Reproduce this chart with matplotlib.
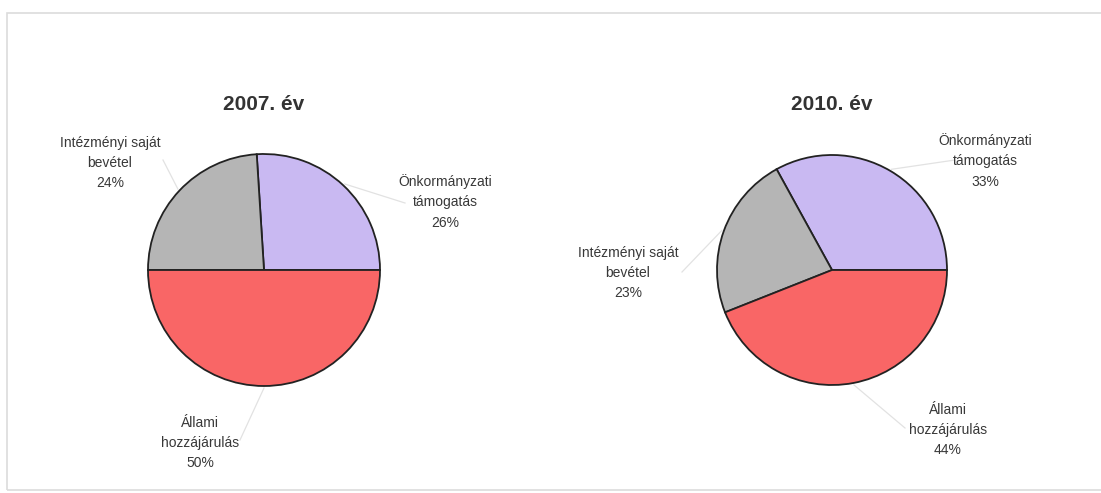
import matplotlib
matplotlib.use("Agg")
import matplotlib.pyplot as plt
import numpy as np
from matplotlib.patches import Rectangle

plt.rcParams['font.family'] = ['Liberation Sans', 'DejaVu Sans']

# Data
categories = ["Önkormányzati\ntámogatás", "Intézményi saját\nbevétel", "Állami\nhozzájárulás"]
years = ["2007. év", "2010. év"]
values_2007 = [26, 24, 50]
values_2010 = [33, 23, 44]
colors = ["#C9B9F2", "#B5B5B5", "#F96666"]

W, H = 1101, 493
fig = plt.figure(figsize=(W / 100, H / 100), dpi=100)
ax = fig.add_axes([0, 0, 1, 1])

# layout (pixel coordinates, y from top)
pies = [
    dict(vals=values_2007, title=years[0], cx=264, cy=270, r=116, ty=104,
         label_pos=[(445, 202), (110, 163), (200, 443)],
         leader_end=[(405, 203), (163, 160), (240, 440)]),
    dict(vals=values_2010, title=years[1], cx=832, cy=270, r=115, ty=104,
         label_pos=[(985, 161), (628, 273), (948, 430)],
         leader_end=[(955, 160), (682, 272), (905, 428)]),
]

# frame
ax.add_patch(Rectangle((7, H - 490), W + 10, 477, fill=False, edgecolor="#dcdcdc", lw=1.2))

for p in pies:
    cx, cy = p["cx"], H - p["cy"]
    wedges, _ = ax.pie(p["vals"], colors=colors, startangle=0, counterclock=True,
                       center=(cx, cy), radius=p["r"],
                       wedgeprops=dict(edgecolor="#222222", linewidth=1.3))
    ax.text(cx, H - p["ty"], p["title"], ha="center", va="center",
            fontsize=15, fontweight="bold", color="#333333")
    total = sum(p["vals"])
    for w, cat, v, (lx, ly), (ex, ey) in zip(wedges, categories, p["vals"],
                                            p["label_pos"], p["leader_end"]):
        ang = np.deg2rad((w.theta1 + w.theta2) / 2)
        sx = cx + (p["r"] + 2) * np.cos(ang)
        sy = cy + (p["r"] + 2) * np.sin(ang)
        ax.plot([sx, ex], [sy, H - ey], color="#e2e2e2", lw=0.9)
        ax.text(lx, H - ly, f"{cat}\n{round(100 * v / total)}%", ha="center", va="center",
                fontsize=10, color="#383838", linespacing=1.58)

ax.set_xlim(0, W)
ax.set_ylim(0, H)
ax.set_aspect("auto")
ax.axis("off")

fig.savefig("out.png", dpi=100, facecolor="white")
